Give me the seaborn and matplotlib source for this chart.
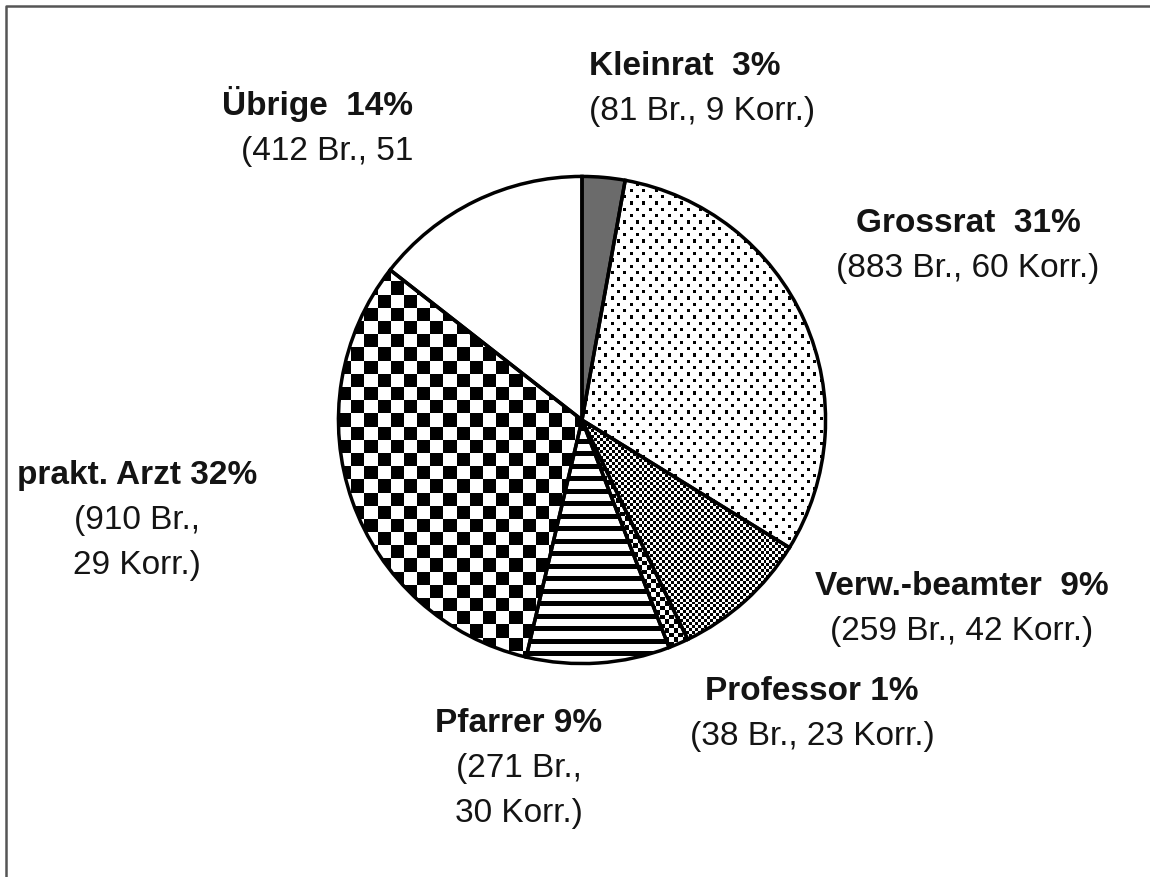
import numpy as np
import matplotlib.pyplot as plt
import seaborn as sns

# Briefe (Br.) und Korrespondenten (Korr.) je Berufsgruppe
groups = ['Kleinrat', 'Grossrat', 'Verw.-beamter', 'Professor', 'Pfarrer', 'prakt. Arzt', 'Übrige']
letters = [81, 883, 259, 38, 271, 910, 412]
writers = [9, 60, 42, 23, 30, 29, 51]

# label text as printed (some lines wrapped / cut in the original)
head_lines = ['Kleinrat  {}%', 'Grossrat  {}%', 'Verw.-beamter  {}%', 'Professor {}%',
              'Pfarrer {}%', 'prakt. Arzt {}%', 'Übrige  {}%']
detail_lines = [['(81 Br., 9 Korr.)'],
                ['(883 Br., 60 Korr.)'],
                ['(259 Br., 42 Korr.)'],
                ['(38 Br., 23 Korr.)'],
                ['(271 Br.,', '30 Korr.)'],
                ['(910 Br.,', '29 Korr.)'],
                ['(412 Br., 51']]

# label layout in pixels: x, first baseline y, alignment
label_pos = [(589, 75, 'left'), (968, 232, 'center'), (962, 595, 'center'),
             (812, 700, 'center'), (519, 732, 'center'), (137, 484, 'center'),
             (413, 115, 'right')]

sns.set_theme(style='white')
plt.rcParams['font.family'] = ['Liberation Sans', 'DejaVu Sans']

W, H = 1150, 877
fig = plt.figure(figsize=(W / 100, H / 100), dpi=100)
fig.patch.set_facecolor('white')

cx, cy, r = 582, 420, 246
ax = fig.add_axes([(cx - r) / W, (H - cy - r) / H, 2 * r / W, 2 * r / H])

wedges, _ = ax.pie(letters, startangle=90, counterclock=False, radius=1,
                   colors=['#6b6b6b'] + ['none'] * 6,
                   wedgeprops=dict(edgecolor='black', linewidth=2.5, zorder=2))


def checker(cell_px):
    n = int(round(2 * r / cell_px))
    i, j = np.indices((n, n))
    return ((i + j) % 2).astype(float)


def stripes(period_px):
    n = int(round(2 * r / period_px))
    rows = np.tile([0, 0, 1, 1, 1], n)
    return np.repeat(rows[:, None], 4, axis=1).astype(float)


def dots(cell_px):
    # staggered dot grid: 8 cells across, 4 cells between rows
    n = int(round(2 * r / cell_px))
    a = np.ones((n, n))
    for k, row in enumerate(range(0, n - 1, 4)):
        off = 0 if k % 2 == 0 else 4
        for col in range(off, n - 1, 8):
            a[row:row + 2, col:col + 2] = 0
    return a


patterns = {1: dots(1.6), 2: checker(3.0), 3: checker(4.5), 4: stripes(12.7), 5: checker(13.2)}
for idx, pat in patterns.items():
    im = ax.imshow(pat, extent=[-1, 1, -1, 1], cmap='gray', vmin=0, vmax=1,
                   interpolation='nearest', zorder=1, aspect='auto')
    im.set_clip_path(wedges[idx])

ax.set_xlim(-1.01, 1.01)
ax.set_ylim(-1.01, 1.01)
ax.set_aspect('equal')
ax.axis('off')

total = sum(letters)
for g, n, head, lines, (x, y, ha) in zip(groups, letters, head_lines, detail_lines, label_pos):
    pct = round(100 * n / total)
    fig.text(x / W, 1 - y / H, head.format(pct), fontsize=24, fontweight='bold',
             ha=ha, va='baseline', color='#141414')
    for k, line in enumerate(lines):
        fig.text(x / W, 1 - (y + 45 * (k + 1)) / H, line, fontsize=24,
                 ha=ha, va='baseline', color='#141414')

# frame line along the top and left edge (original scan is cropped right/bottom)
fig.add_artist(plt.Line2D([6 / W, 6 / W, 1.0], [0.0, 1 - 6 / H, 1 - 6 / H],
                          transform=fig.transFigure, color='#555555', linewidth=1.8))

fig.savefig('out.png', dpi=100)
